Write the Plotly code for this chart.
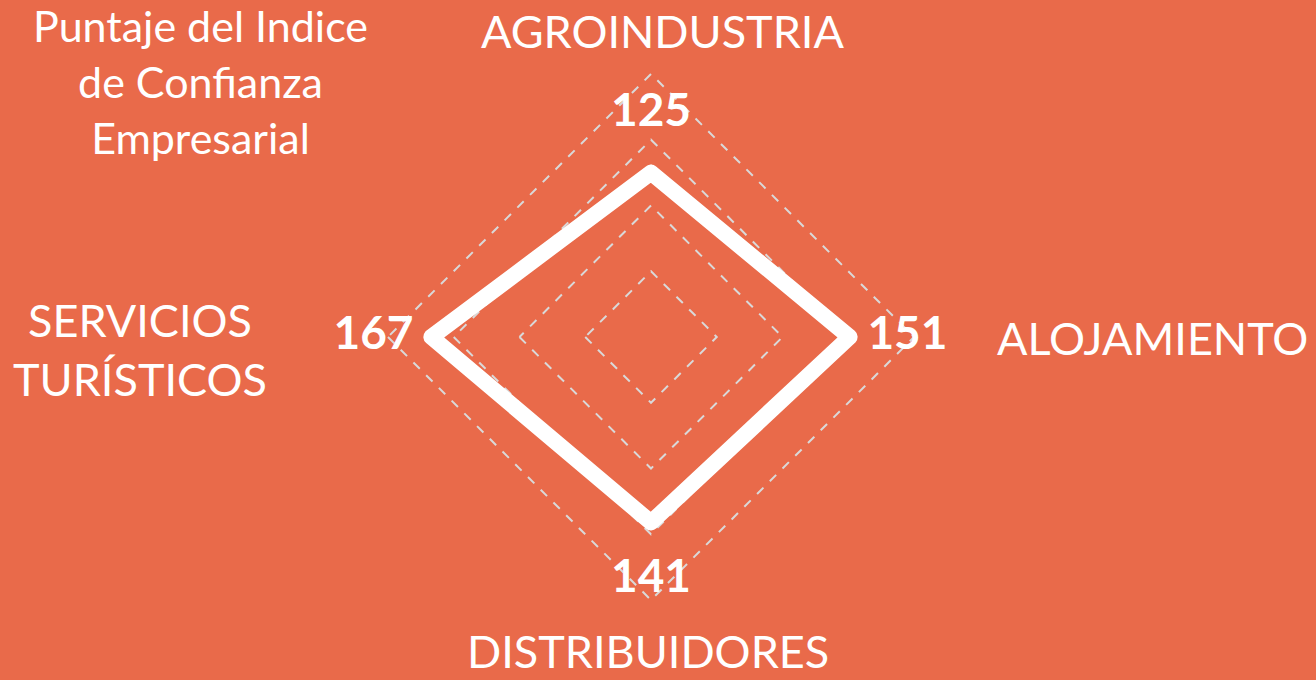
import plotly.graph_objects as go

categories = ["AGROINDUSTRIA", "ALOJAMIENTO", "DISTRIBUIDORES", "SERVICIOS TURÍSTICOS"]
values = [125, 151, 141, 167]
value_labels = ["125", "151", "141", "167"]
grid_ticks = [50, 100, 150, 200]
title_text = "Puntaje del Indice<br>de Confianza<br>Empresarial"

BG = "#E96A4A"
FONT = "Lato, 'Open Sans', sans-serif"
W, H = 1316, 680

fig = go.Figure()

theta_closed = categories + [categories[0]]
r_closed = values + [values[0]]

fig.add_trace(go.Scatterpolar(
    r=r_closed, theta=theta_closed, mode="lines",
    line=dict(color="white", width=16),
    hoverinfo="skip", showlegend=False,
))

label_pad = 44
fig.add_trace(go.Scatterpolar(
    r=[v + label_pad for v in values], theta=categories, mode="text",
    text=value_labels, textposition="middle center",
    textfont=dict(family=FONT, size=46, color="white", weight="bold"),
    hoverinfo="skip", showlegend=False,
))

# polar centre (651, 337) px, 1.315 px per unit; radial range extends to 230
cx, cy, rad = 651, 337, 302.5
fig.update_layout(
    width=W, height=H,
    margin=dict(l=0, r=0, t=0, b=0),
    paper_bgcolor=BG, plot_bgcolor=BG,
    polar=dict(
        domain=dict(x=[(cx - rad) / W, (cx + rad) / W],
                    y=[1 - (cy + rad) / H, 1 - (cy - rad) / H]),
        bgcolor="rgba(0,0,0,0)",
        gridshape="linear",
        radialaxis=dict(
            range=[0, 230], tickvals=grid_ticks, showticklabels=False,
            ticks="", showline=False, gridcolor="#D9D9D9", griddash="dash",
            gridwidth=1.5,
        ),
        angularaxis=dict(
            direction="clockwise", rotation=90, showgrid=False,
            showline=False, showticklabels=False, ticks="",
            categoryorder="array", categoryarray=categories,
        ),
    ),
    showlegend=False,
)

cat_font = dict(family=FONT, size=45, color="white")
annots = [
    dict(text=title_text, x=200 / W, y=1 - 81 / H, xanchor="center", yanchor="middle", align="center",
         font=dict(family=FONT, size=43, color="white")),
    dict(text=categories[0], x=662 / W, y=1 - 31 / H, xanchor="center", yanchor="middle"),
    dict(text=categories[1], x=1152 / W, y=1 - 338 / H, xanchor="center", yanchor="middle"),
    dict(text=categories[2], x=648 / W, y=0, xanchor="center", yanchor="bottom"),
    dict(text="SERVICIOS<br>TURÍSTICOS", x=140 / W, y=1 - 350 / H, xanchor="center", yanchor="middle", align="center"),
]
for a in annots:
    a.setdefault("font", cat_font)
    fig.add_annotation(xref="paper", yref="paper", showarrow=False, **a)

post = """
document.body.style.margin = '0';
document.querySelectorAll('.scatterlayer path.js-line').forEach(function(p){
  p.style.strokeLinejoin = 'round';
  p.style.strokeLinecap = 'round';
});
"""
fig.write_html("out.html", post_script=post, config={"displayModeBar": False})
